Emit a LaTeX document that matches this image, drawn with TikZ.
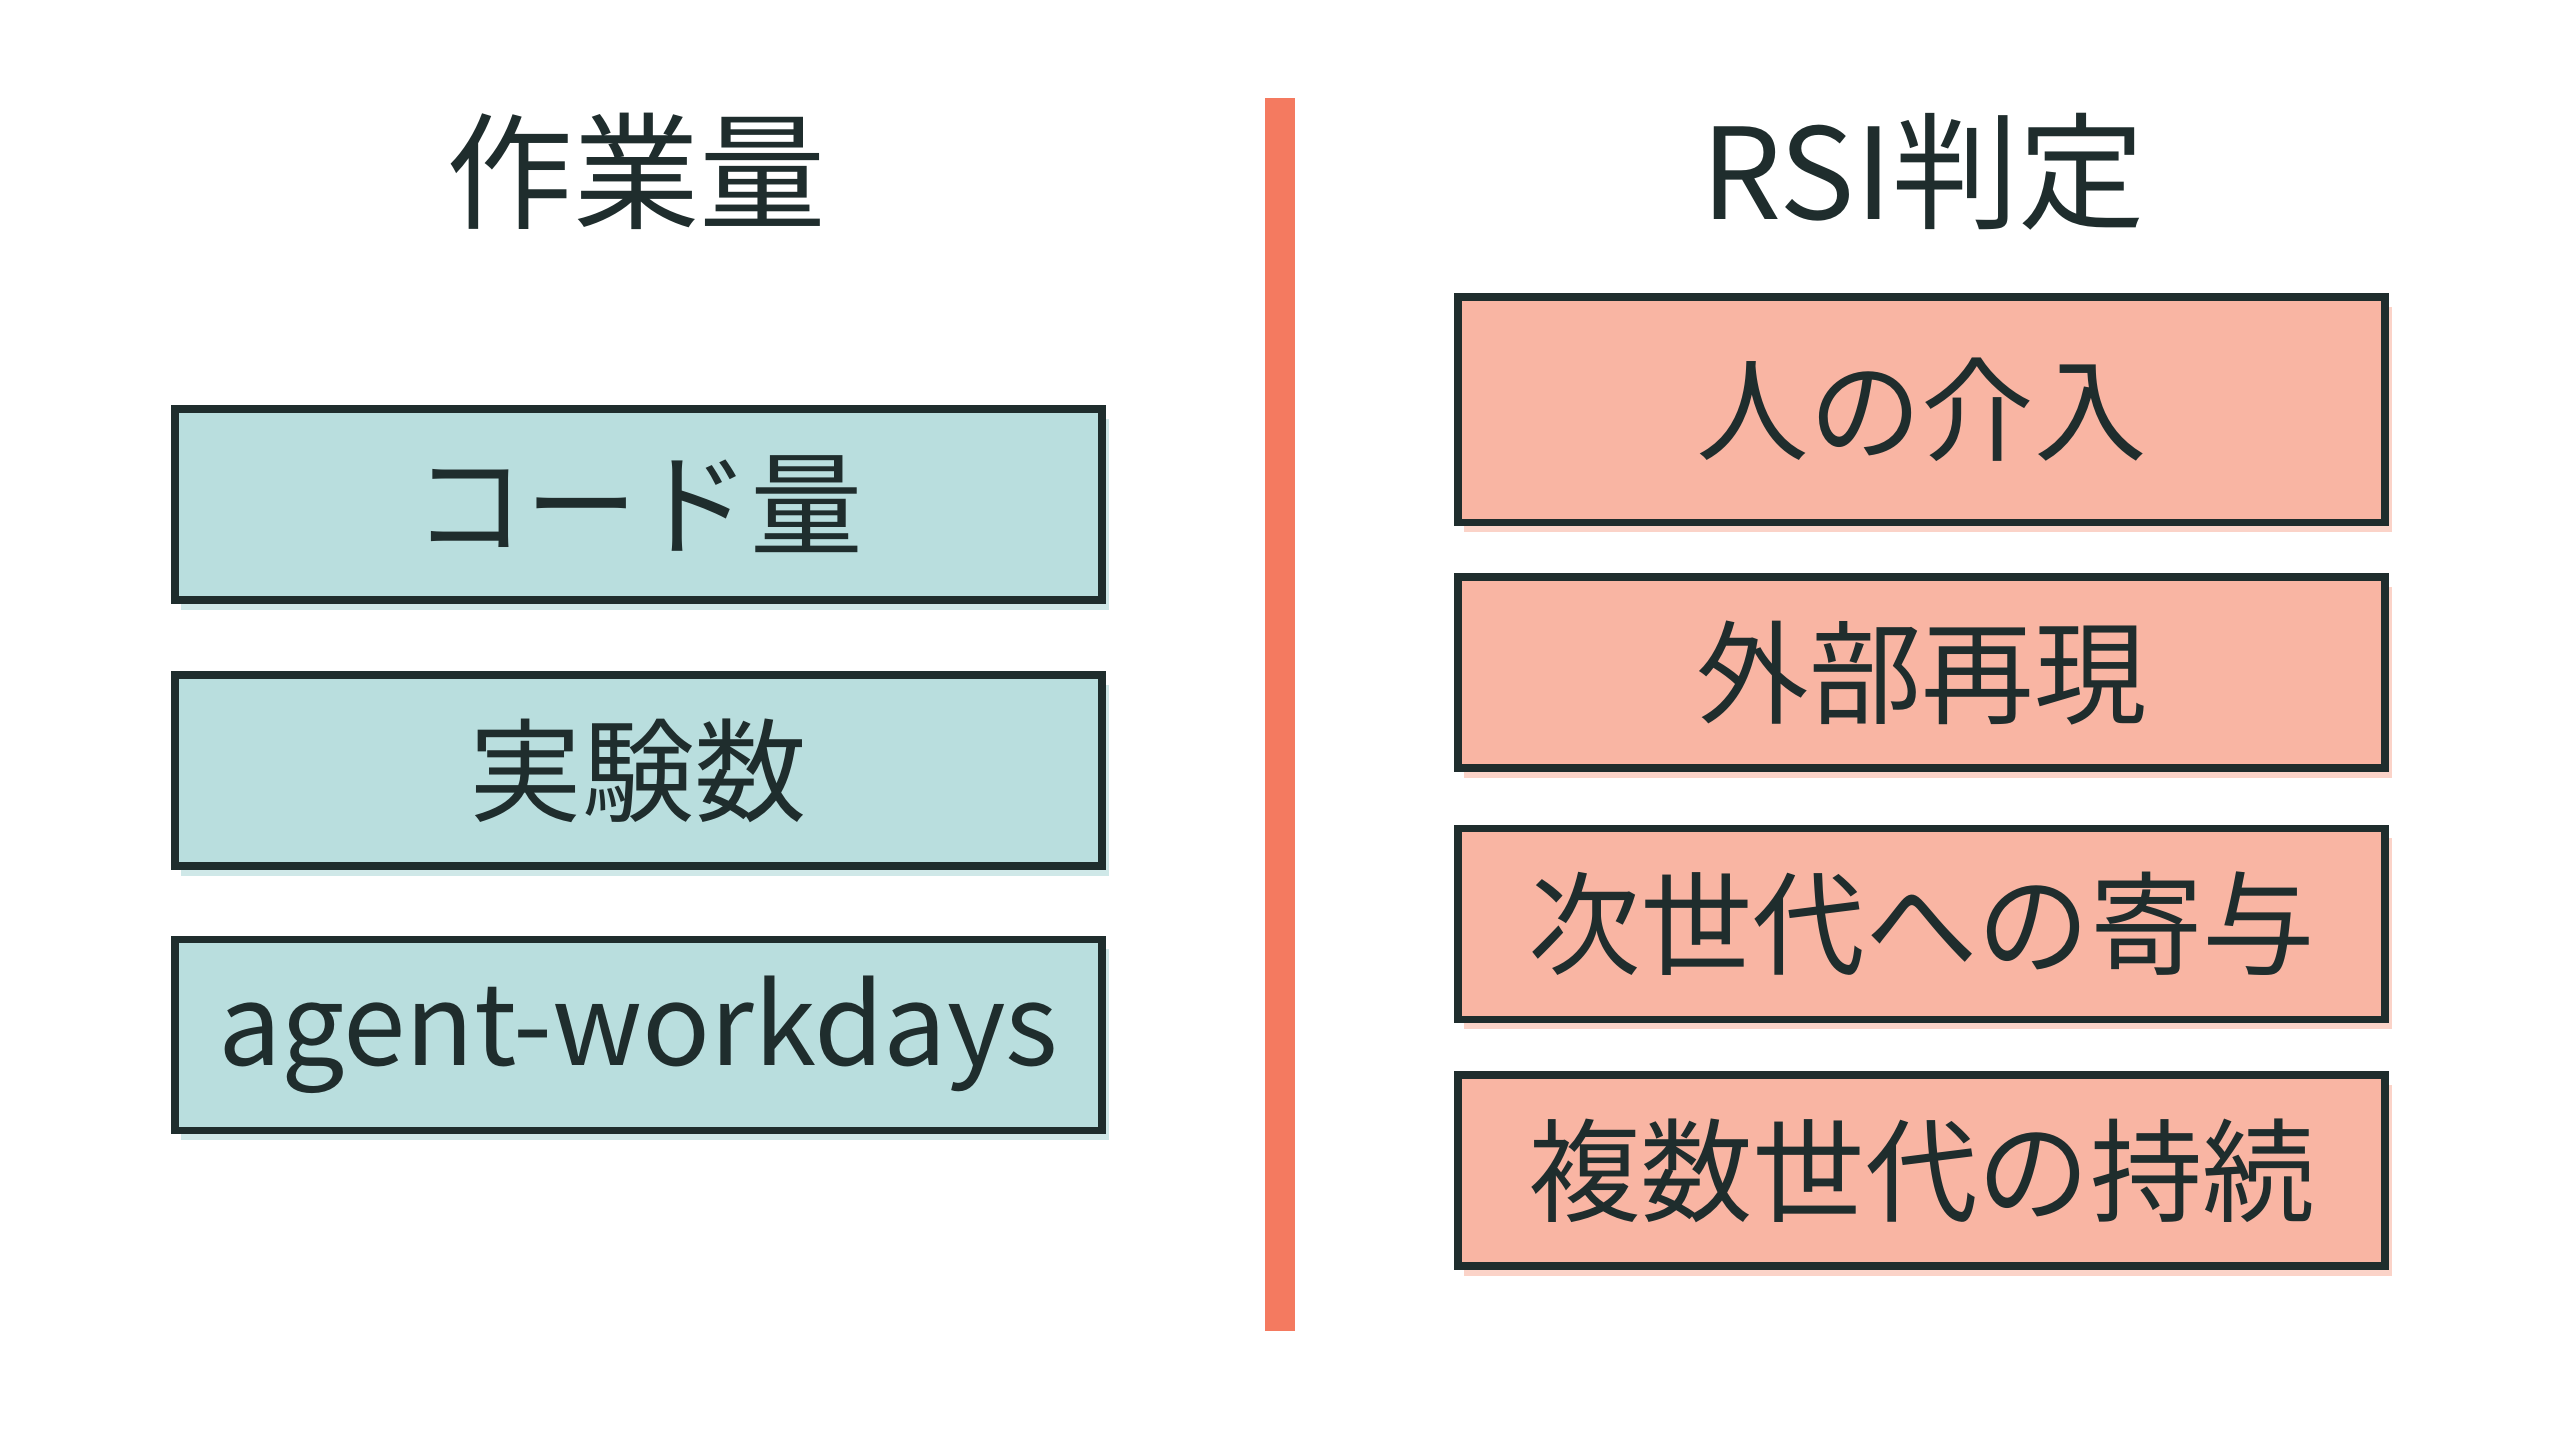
\documentclass[tikz,border=0pt]{standalone}
\usepackage{fontspec}
\setmainfont{Noto Sans CJK JP}
\usetikzlibrary{positioning}
\definecolor{ink}{HTML}{1F2D2D}
\definecolor{tealfill}{HTML}{B9DEDE}
\definecolor{tealshade}{HTML}{CFE8E8}
\definecolor{salmonfill}{HTML}{F9B5A3}
\definecolor{salmonshade}{HTML}{FBD3C8}
\definecolor{divider}{HTML}{F47A60}

\begin{document}
\begin{tikzpicture}[x=0.01633cm,y=-0.01633cm,
  title/.style={font=\fontsize{36}{40}\selectfont, text=ink},
  leftbox/.style={draw=ink, line width=2.2pt, fill=tealfill, minimum width=568*0.01633cm,
    minimum height=117*0.01633cm, font=\fontsize{32}{36}\selectfont, text=ink},
  rightbox/.style={draw=ink, line width=2.2pt, fill=salmonfill, minimum width=568*0.01633cm,
    minimum height=117*0.01633cm, font=\fontsize{32}{36}\selectfont, text=ink},
  shadeL/.style={fill=tealshade, draw=none, minimum width=568*0.01633cm, minimum height=117*0.01633cm},
  shadeR/.style={fill=salmonshade, draw=none, minimum width=568*0.01633cm, minimum height=117*0.01633cm}]
\useasboundingbox[fill=white] (0,0) rectangle (1568,875);
% divider
\fill[divider] (775,60) rectangle (793,815);
% titles
\node[title] (workTitle) at (390,105) {作業量};
\node[title] (rsiTitle) at (1178,105) {RSI判定};
% left column
\foreach \y/\name/\txt in {309/code/コード量, 472/exp/実験数, 634/agent/agent-workdays}{
  \node[shadeL] at (395,\y+6) {};
  \node[leftbox] (\name) at (391,\y) {\txt};
}
% right column
\node[shadeR, minimum height=138*0.01633cm] at (1181,257) {};
\node[rightbox, minimum height=138*0.01633cm] (human) at (1177,251) {人の介入};
\foreach \y/\name/\txt in {412/repro/外部再現, 566/next/次世代への寄与, 717/multi/複数世代の持続}{
  \node[shadeR] at (1181,\y+6) {};
  \node[rightbox] (\name) at (1177,\y) {\txt};
}
\end{tikzpicture}
\end{document}
